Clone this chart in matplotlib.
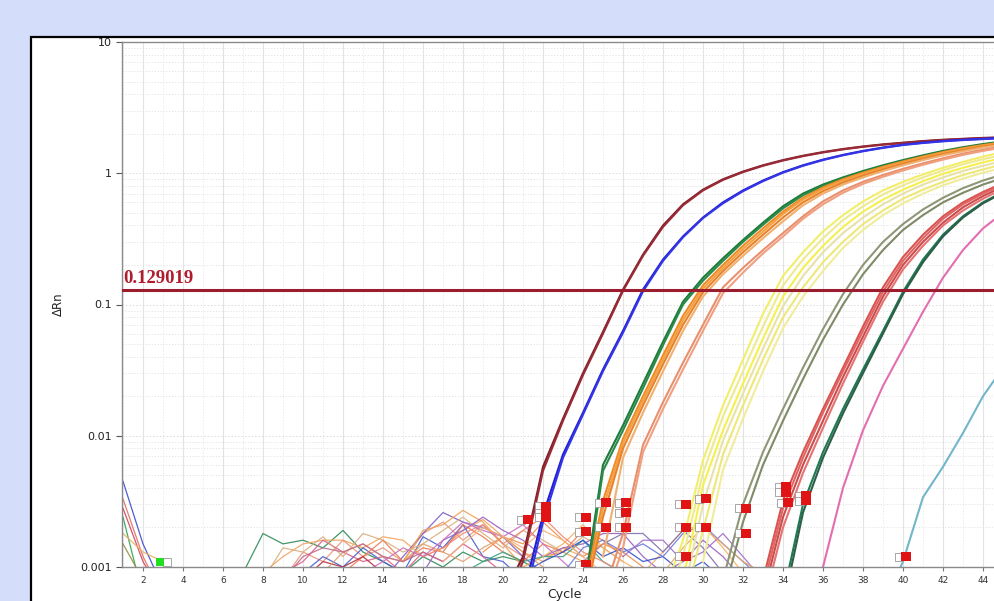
import numpy as np
import matplotlib
matplotlib.use('Agg')
import matplotlib.pyplot as plt
from matplotlib.patches import Rectangle

# Amplification curves: start cycle + dRn values, one cycle per value
dark_red_starts = [20, 20]
dark_red_values = [
    [0.0006, 0.0012, 0.0058, 0.0135, 0.03, 0.062, 0.13, 0.24, 0.4, 0.58, 0.75, 0.9, 1.03, 1.15, 1.26, 1.36, 1.45, 1.53, 1.6, 1.66, 1.71, 1.76, 1.8, 1.83, 1.86, 1.88],
    [0.0005, 0.0011, 0.0054, 0.013, 0.029, 0.06, 0.127, 0.235, 0.39, 0.57, 0.74, 0.89, 1.02, 1.14, 1.25, 1.35, 1.44, 1.52, 1.59, 1.65, 1.7, 1.75, 1.79, 1.82, 1.85, 1.87],
]
blue_starts = [21, 21]
blue_values = [
    [0.0006, 0.0025, 0.0072, 0.015, 0.032, 0.063, 0.13, 0.22, 0.33, 0.46, 0.6, 0.74, 0.88, 1.02, 1.15, 1.27, 1.38, 1.48, 1.57, 1.65, 1.71, 1.76, 1.8, 1.83, 1.86],
    [0.0005, 0.0022, 0.0068, 0.0145, 0.031, 0.061, 0.126, 0.215, 0.325, 0.455, 0.59, 0.73, 0.87, 1.01, 1.14, 1.26, 1.37, 1.47, 1.56, 1.64, 1.7, 1.75, 1.79, 1.82, 1.85],
]
green_starts = [24, 24]
green_values = [
    [0.0006, 0.006, 0.012, 0.025, 0.052, 0.105, 0.16, 0.225, 0.31, 0.42, 0.56, 0.7, 0.82, 0.93, 1.04, 1.15, 1.26, 1.37, 1.48, 1.58, 1.67, 1.75],
    [0.0005, 0.0054, 0.011, 0.023, 0.049, 0.1, 0.152, 0.215, 0.3, 0.405, 0.54, 0.68, 0.8, 0.91, 1.02, 1.13, 1.24, 1.35, 1.46, 1.56, 1.65, 1.73],
]
orange_starts = [24, 24, 24, 25]
orange_values = [
    [0.0006, 0.0032, 0.0095, 0.02, 0.041, 0.082, 0.14, 0.2, 0.28, 0.38, 0.51, 0.65, 0.78, 0.9, 1.01, 1.12, 1.23, 1.34, 1.45, 1.55, 1.64, 1.72],
    [0.0005, 0.0028, 0.0088, 0.0185, 0.038, 0.076, 0.132, 0.19, 0.265, 0.36, 0.49, 0.63, 0.76, 0.88, 0.99, 1.1, 1.21, 1.32, 1.43, 1.53, 1.62, 1.7],
    [0.0005, 0.0024, 0.008, 0.017, 0.035, 0.07, 0.124, 0.18, 0.25, 0.34, 0.46, 0.6, 0.73, 0.85, 0.96, 1.07, 1.18, 1.29, 1.4, 1.5, 1.6, 1.68],
    [0.0012, 0.0068, 0.015, 0.031, 0.063, 0.115, 0.17, 0.235, 0.32, 0.43, 0.57, 0.7, 0.82, 0.93, 1.04, 1.15, 1.26, 1.37, 1.47, 1.57, 1.65],
]
salmon_starts = [25, 25]
salmon_values = [
    [0.0006, 0.0018, 0.0085, 0.018, 0.036, 0.07, 0.135, 0.19, 0.26, 0.35, 0.47, 0.61, 0.74, 0.86, 0.97, 1.08, 1.19, 1.3, 1.41, 1.51, 1.6],
    [0.0005, 0.0014, 0.0075, 0.016, 0.032, 0.063, 0.122, 0.175, 0.245, 0.33, 0.45, 0.58, 0.71, 0.83, 0.94, 1.05, 1.16, 1.27, 1.38, 1.48, 1.57],
]
yellow_starts = [28, 28, 29, 29, 29, 30]
yellow_values = [
    [0.0006, 0.0016, 0.0065, 0.017, 0.038, 0.085, 0.165, 0.25, 0.36, 0.48, 0.61, 0.74, 0.86, 0.98, 1.1, 1.22, 1.34, 1.45],
    [0.0005, 0.0012, 0.0052, 0.014, 0.031, 0.068, 0.14, 0.22, 0.32, 0.44, 0.56, 0.69, 0.81, 0.93, 1.05, 1.17, 1.28, 1.38],
    [0.0008, 0.0042, 0.011, 0.025, 0.055, 0.115, 0.19, 0.28, 0.39, 0.51, 0.63, 0.75, 0.87, 0.99, 1.1, 1.21, 1.31],
    [0.0006, 0.003, 0.0092, 0.021, 0.046, 0.097, 0.165, 0.25, 0.35, 0.46, 0.58, 0.7, 0.82, 0.93, 1.04, 1.14, 1.24],
    [0.0005, 0.0019, 0.0072, 0.017, 0.038, 0.08, 0.135, 0.21, 0.3, 0.41, 0.52, 0.64, 0.75, 0.86, 0.97, 1.07, 1.17],
    [0.0011, 0.0055, 0.0135, 0.031, 0.066, 0.115, 0.18, 0.27, 0.37, 0.48, 0.59, 0.7, 0.81, 0.91, 1.01, 1.1],
]
olive_starts = [31, 31]
olive_values = [
    [0.0008, 0.003, 0.0075, 0.016, 0.033, 0.065, 0.12, 0.2, 0.3, 0.41, 0.53, 0.65, 0.77, 0.88, 0.98],
    [0.0006, 0.0022, 0.006, 0.013, 0.027, 0.054, 0.1, 0.17, 0.26, 0.37, 0.48, 0.6, 0.71, 0.82, 0.92],
]
red_starts = [33, 33, 33, 33]
red_values = [
    [0.0008, 0.0032, 0.0075, 0.016, 0.033, 0.068, 0.135, 0.23, 0.34, 0.47, 0.6, 0.72, 0.84],
    [0.0007, 0.0028, 0.0068, 0.015, 0.031, 0.063, 0.125, 0.215, 0.32, 0.45, 0.58, 0.7, 0.82],
    [0.0006, 0.0024, 0.006, 0.013, 0.028, 0.057, 0.115, 0.2, 0.3, 0.42, 0.55, 0.67, 0.79],
    [0.0005, 0.002, 0.0052, 0.0115, 0.025, 0.052, 0.105, 0.185, 0.28, 0.4, 0.52, 0.64, 0.76],
]
dark_green_starts = [34, 34]
dark_green_values = [
    [0.0006, 0.003, 0.0075, 0.016, 0.032, 0.063, 0.125, 0.22, 0.34, 0.47, 0.6, 0.72],
    [0.0005, 0.0026, 0.0068, 0.0148, 0.03, 0.06, 0.12, 0.21, 0.33, 0.46, 0.59, 0.71],
]
pink_starts = [35]
pink_values = [[0.0005, 0.001, 0.004, 0.011, 0.024, 0.046, 0.088, 0.16, 0.26, 0.38, 0.5]]
light_blue_starts = [39]
light_blue_values = [[0.0005, 0.0011, 0.0034, 0.0058, 0.0105, 0.02, 0.033]]

# Baseline noise traces
noise_starts = [7, 8, 9, 14, 15, 10, 9, 8, 12, 16, 18, 22, 21, 24, 16, 10,
                11, 13, 19, 23, 26, 28, 9, 17,
                1, 1, 1, 1, 1, 1]
noise_values = [
    [0.0009, 0.0018, 0.0015, 0.0016, 0.0014, 0.0019, 0.0013, 0.0011, 0.0009, 0.0012, 0.001, 0.0013, 0.0011, 0.0012, 0.0011, 0.0009],
    [0.0009, 0.0012, 0.0015, 0.0016, 0.0016, 0.0014, 0.0017, 0.0016, 0.0012, 0.0014, 0.0019, 0.0023, 0.0017, 0.0013, 0.0011, 0.0014, 0.0012],
    [0.0008, 0.0013, 0.0011, 0.0016, 0.0012, 0.0014, 0.0011, 0.0018, 0.0022, 0.0016, 0.0021, 0.0015, 0.0012],
    [0.0008, 0.0012, 0.0018, 0.0026, 0.0022, 0.002, 0.0017, 0.0012, 0.0009],
    [0.0011, 0.0019, 0.0021, 0.0027, 0.0022, 0.0015, 0.001, 0.0012, 0.0013, 0.0011],
    [0.0009, 0.0012, 0.001, 0.0014, 0.0011, 0.0009, 0.0017, 0.0014, 0.0021, 0.0012, 0.0011, 0.0008],
    [0.0009, 0.0011, 0.0016, 0.0013, 0.0011, 0.0012, 0.0009, 0.0013, 0.0011, 0.0015, 0.0012, 0.0009],
    [0.0008, 0.0014, 0.0013, 0.0017, 0.0012, 0.0018, 0.0016, 0.0013, 0.0015, 0.0019, 0.0024, 0.0018, 0.0014, 0.0019, 0.0016, 0.0013, 0.0017, 0.0014, 0.0011],
    [0.0009, 0.0012, 0.0016, 0.0011, 0.0014, 0.0013, 0.0021, 0.0017, 0.0013, 0.0011, 0.0015, 0.0013, 0.0019, 0.0016, 0.0012],
    [0.0009, 0.0016, 0.0019, 0.0024, 0.0019, 0.0016, 0.0012, 0.0014, 0.0015, 0.0018, 0.0018, 0.0012, 0.0009, 0.0011, 0.0016, 0.0012, 0.0008],
    [0.0009, 0.0011, 0.0013, 0.0011, 0.0012, 0.0012, 0.0016, 0.0011, 0.0009],
    [0.0012, 0.0015, 0.0021, 0.0014, 0.0011, 0.0009, 0.0013, 0.0019, 0.0021, 0.0014, 0.0009],
    [0.0009, 0.0011, 0.0013, 0.0016, 0.0012, 0.0014, 0.0011, 0.0012, 0.0009, 0.0011, 0.0008],
    [0.0011, 0.0015, 0.0018, 0.0018, 0.0013, 0.0019, 0.0014, 0.0009],
    [0.0012, 0.0014, 0.0018, 0.0021, 0.0015, 0.0019, 0.0024, 0.0017, 0.0013, 0.0011, 0.0009],
    [0.0008, 0.0011, 0.001, 0.0012, 0.0009],
    [0.0009, 0.0013, 0.0015, 0.0012, 0.0011, 0.0015, 0.0013, 0.0011, 0.0014, 0.0017, 0.0013, 0.001],
    [0.0009, 0.0011, 0.0014, 0.0012, 0.0016, 0.0022, 0.0019, 0.0017, 0.0021, 0.0015, 0.0011, 0.0008],
    [0.0013, 0.0017, 0.0015, 0.0022, 0.0016, 0.0012, 0.0015, 0.0013, 0.001],
    [0.0009, 0.0014, 0.0016, 0.0013, 0.0015, 0.0012, 0.0018, 0.0021, 0.0015, 0.0011, 0.0008],
    [0.0012, 0.0016, 0.0016, 0.0011, 0.0013, 0.0018, 0.0012, 0.0008],
    [0.0009, 0.0014, 0.002, 0.0015, 0.0011, 0.0009],
    [0.0008, 0.0012, 0.0014, 0.0013, 0.0015, 0.0012, 0.0011, 0.0013, 0.0011],
    [0.0011, 0.0015, 0.002, 0.0017, 0.0014, 0.0019, 0.0016, 0.0012, 0.0009],
    [0.0045, 0.0015, 0.0007],
    [0.0033, 0.0012, 0.0006],
    [0.0028, 0.0011, 0.0006],
    [0.0024, 0.0006],
    [0.0018, 0.0013, 0.0011],
    [0.0015, 0.0008],
]
noise_colors = ['#2e8b57', '#f4a460', '#e9967a', '#7b5fc7', '#f0a050', '#4a5fd0', '#d9608a',
                '#d8b080', '#ee7a50', '#9a60c0', '#3aa080', '#f5b060', '#3050c8', '#8070b0',
                '#f08878', '#b03040', '#e0a070', '#c870c0', '#f0904a', '#6a7ad8', '#a06cc8',
                '#e8a868', '#c06a8a', '#f4b27a',
                '#3a4ad0', '#e07060', '#d04060', '#30a050', '#e8b060', '#909040']

# Ct markers (cycle, dRn)
marker_cycles = [21.1, 22, 22, 22, 24, 24, 24, 25, 25, 26, 26, 26, 29, 29, 29, 30, 30, 32, 32, 34, 34, 34.1, 35, 35, 40]
marker_values = [0.0023, 0.0029, 0.0026, 0.0024, 0.0024, 0.00185, 0.00104, 0.0031, 0.002, 0.0031, 0.0026, 0.002,
                 0.003, 0.002, 0.00121, 0.0033, 0.002, 0.0028, 0.0018, 0.0041, 0.0037, 0.0031, 0.0035, 0.0032, 0.0012]
green_marker_cycle = [3]
green_marker_value = [0.0011]

threshold = 0.129019
y_ticks = [0.001, 0.01, 0.1, 1, 10]
y_labels = ['0.001', '0.01', '0.1', '1', '10']
x_ticks = list(range(2, 46, 2))

groups = [
    (dark_red_starts, dark_red_values, ['#7d1f2a', '#9a2a36']),
    (blue_starts, blue_values, ['#1f1fd0', '#3535e8']),
    (green_starts, green_values, ['#1e7b3c', '#2a8a48']),
    (orange_starts, orange_values, ['#f08a24', '#f5a040', '#e8822a', '#f0b070']),
    (salmon_starts, salmon_values, ['#e8906e', '#f0a080']),
    (yellow_starts, yellow_values, ['#f2ee6a', '#eeea90', '#f5f050', '#e8e2a8', '#efe878', '#f0ec9c']),
    (olive_starts, olive_values, ['#8f9676', '#7f8a66']),
    (red_starts, red_values, ['#d9534f', '#e06464', '#cc4c4c', '#e57373']),
    (dark_green_starts, dark_green_values, ['#1d7a52', '#2f5e48']),
    (pink_starts, pink_values, ['#e46db0']),
    (light_blue_starts, light_blue_values, ['#72b6c9']),
]

W, H = 995, 601
fig = plt.figure(figsize=(W / 100, H / 100), dpi=100, facecolor='#d4defa')

# white panel with black frame (behind the axes)
fig.patches.append(Rectangle((31 / W, -0.1), 1.2, (H - 37) / H + 0.1, transform=fig.transFigure,
                             facecolor='white', edgecolor='black', linewidth=1.6, zorder=-5))

ax = fig.add_axes([122 / W, 1 - 567 / H, (1006 - 122) / W, (567 - 42) / H])
ax.set_zorder(1)
ax.set_facecolor('white')
ax.set_yscale('log')
ax.set_ylim(0.001, 10)
ax.set_xlim(0.95, 45.15)

# grid
ax.set_xticks(x_ticks)
ax.set_xticks(range(1, 46), minor=True)
ax.grid(True, which='major', axis='x', color='#e3e3e3', linewidth=0.8, linestyle='-')
ax.grid(True, which='minor', axis='x', color='#e6e6e6', linewidth=0.6, linestyle=(0, (1.5, 2)))
ax.grid(True, which='major', axis='y', color='#dcdcdc', linewidth=0.7, linestyle=(0, (1.5, 2)))
ax.grid(True, which='minor', axis='y', color='#e0e0e0', linewidth=0.6, linestyle=(0, (1.5, 2)))
ax.set_axisbelow(True)

for s, v, c in zip(noise_starts, noise_values, noise_colors):
    ax.plot(np.arange(s, s + len(v)), v, color=c, linewidth=0.9, alpha=0.9)

for starts, values, colors in groups:
    for s, v, c in zip(starts, values, colors):
        ax.plot(np.arange(s, s + len(v)), v, color=c, linewidth=1.5)

# threshold
ax.axhline(threshold, color='#9b1c2c', linewidth=2.2, zorder=5)
ax.text(1.0, threshold * 1.06, '0.129019', color='#b01c2e', fontsize=13.5, family='Liberation Serif',
        fontweight='bold', va='bottom', ha='left', zorder=6)

# Ct markers: white half + red half
mc = np.array(marker_cycles)
ax.scatter(mc - 0.2, marker_values, marker='s', s=30, facecolor='white', edgecolor='#999999',
           linewidth=0.6, zorder=7)
ax.scatter(mc + 0.15, marker_values, marker='s', s=42, facecolor='#e01414', edgecolor='none', zorder=8)
gm = np.array(green_marker_cycle)
ax.scatter(gm - 0.15, green_marker_value, marker='s', s=34, facecolor='#22dd22', edgecolor='none', zorder=8)
ax.scatter(gm + 0.2, green_marker_value, marker='s', s=26, facecolor='white', edgecolor='#999999',
           linewidth=0.6, zorder=7)

# axes styling
ax.set_yticks(y_ticks)
ax.set_yticklabels(y_labels)
ax.set_xticklabels([str(t) for t in x_ticks])
ax.tick_params(axis='y', which='major', labelsize=8, colors='#555555', labelcolor='#222222', length=4, width=0.8)
ax.tick_params(axis='y', which='minor', length=0)
ax.tick_params(axis='x', which='major', labelsize=6.5, colors='#777777', labelcolor='#333333', length=3, width=0.8)
ax.tick_params(axis='x', which='minor', length=0)
for side in ['left', 'top', 'bottom']:
    ax.spines[side].set_color('#8a8a8a')
    ax.spines[side].set_linewidth(1.0)
ax.spines['right'].set_visible(False)

ax.set_ylabel('ΔRn', fontsize=8.5, color='#222222', labelpad=11)
fig.text(564 / W, 1 - 588 / H, 'Cycle', ha='center', va='top', fontsize=9, color='#222222')

fig.savefig('out.png', dpi=100, facecolor=fig.get_facecolor())
